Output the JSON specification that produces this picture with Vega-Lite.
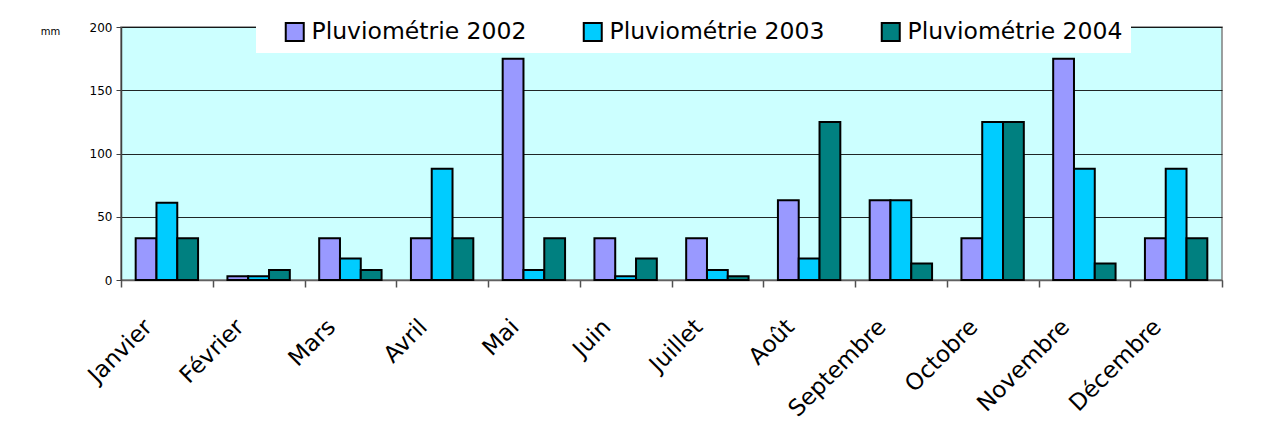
{
  "$schema": "https://vega.github.io/schema/vega-lite/v6.json",
  "autosize": {"type": "none"},
  "padding": {"left": 121, "top": 27, "right": 41, "bottom": 148},
  "width": 1101,
  "height": 253,
  "background": "white",
  "data": {
    "values": [
      {"mois": "Janvier", "serie": "Pluviométrie 2002", "mm": 33},
      {"mois": "Janvier", "serie": "Pluviométrie 2003", "mm": 61},
      {"mois": "Janvier", "serie": "Pluviométrie 2004", "mm": 33},
      {"mois": "Février", "serie": "Pluviométrie 2002", "mm": 3},
      {"mois": "Février", "serie": "Pluviométrie 2003", "mm": 3},
      {"mois": "Février", "serie": "Pluviométrie 2004", "mm": 8},
      {"mois": "Mars", "serie": "Pluviométrie 2002", "mm": 33},
      {"mois": "Mars", "serie": "Pluviométrie 2003", "mm": 17},
      {"mois": "Mars", "serie": "Pluviométrie 2004", "mm": 8},
      {"mois": "Avril", "serie": "Pluviométrie 2002", "mm": 33},
      {"mois": "Avril", "serie": "Pluviométrie 2003", "mm": 88},
      {"mois": "Avril", "serie": "Pluviométrie 2004", "mm": 33},
      {"mois": "Mai", "serie": "Pluviométrie 2002", "mm": 175},
      {"mois": "Mai", "serie": "Pluviométrie 2003", "mm": 8},
      {"mois": "Mai", "serie": "Pluviométrie 2004", "mm": 33},
      {"mois": "Juin", "serie": "Pluviométrie 2002", "mm": 33},
      {"mois": "Juin", "serie": "Pluviométrie 2003", "mm": 3},
      {"mois": "Juin", "serie": "Pluviométrie 2004", "mm": 17},
      {"mois": "Juillet", "serie": "Pluviométrie 2002", "mm": 33},
      {"mois": "Juillet", "serie": "Pluviométrie 2003", "mm": 8},
      {"mois": "Juillet", "serie": "Pluviométrie 2004", "mm": 3},
      {"mois": "Août", "serie": "Pluviométrie 2002", "mm": 63},
      {"mois": "Août", "serie": "Pluviométrie 2003", "mm": 17},
      {"mois": "Août", "serie": "Pluviométrie 2004", "mm": 125},
      {"mois": "Septembre", "serie": "Pluviométrie 2002", "mm": 63},
      {"mois": "Septembre", "serie": "Pluviométrie 2003", "mm": 63},
      {"mois": "Septembre", "serie": "Pluviométrie 2004", "mm": 13},
      {"mois": "Octobre", "serie": "Pluviométrie 2002", "mm": 33},
      {"mois": "Octobre", "serie": "Pluviométrie 2003", "mm": 125},
      {"mois": "Octobre", "serie": "Pluviométrie 2004", "mm": 125},
      {"mois": "Novembre", "serie": "Pluviométrie 2002", "mm": 175},
      {"mois": "Novembre", "serie": "Pluviométrie 2003", "mm": 88},
      {"mois": "Novembre", "serie": "Pluviométrie 2004", "mm": 13},
      {"mois": "Décembre", "serie": "Pluviométrie 2002", "mm": 33},
      {"mois": "Décembre", "serie": "Pluviométrie 2003", "mm": 88},
      {"mois": "Décembre", "serie": "Pluviométrie 2004", "mm": 33}
    ]
  },
  "mark": {"type": "bar", "stroke": "black", "strokeWidth": 2},
  "encoding": {
    "x": {
      "field": "mois",
      "type": "nominal",
      "sort": ["Janvier", "Février", "Mars", "Avril", "Mai", "Juin", "Juillet", "Août", "Septembre", "Octobre", "Novembre", "Décembre"],
      "scale": {"paddingInner": 0, "paddingOuter": 0},
      "axis": {
        "title": null,
        "labelAngle": -45,
        "labelAlign": "right",
        "labelBaseline": "middle",
        "labelFontSize": 23,
        "labelPadding": 36,
        "labelOffset": -19,
        "labelColor": "black",
        "labelOverlap": false,
        "ticks": true,
        "tickBand": "extent",
        "tickSize": 7,
        "tickWidth": 1.5,
        "tickColor": "#505050",
        "domainColor": "#606060",
        "domainWidth": 1.5
      }
    },
    "xOffset": {"field": "serie", "type": "nominal", "scale": {"paddingInner": 0, "paddingOuter": 0.706}},
    "y": {
      "field": "mm",
      "type": "quantitative",
      "scale": {"domain": [0, 200]},
      "axis": {
        "title": "mm",
        "titleAngle": 0,
        "titleX": -71,
        "titleY": 4,
        "titleAlign": "center",
        "titleBaseline": "middle",
        "titleFontSize": 10,
        "titleFontWeight": "normal",
        "titleColor": "black",
        "values": [0, 50, 100, 150, 200],
        "labelFontSize": 12,
        "labelColor": "black",
        "labelPadding": 4,
        "tickSize": 5,
        "tickColor": "#404040",
        "domainColor": "#404040",
        "domainWidth": 1.5,
        "grid": true,
        "gridColor": "black",
        "gridWidth": 1,
        "gridOpacity": 0.85
      }
    },
    "color": {
      "field": "serie",
      "type": "nominal",
      "scale": {
        "domain": ["Pluviométrie 2002", "Pluviométrie 2003", "Pluviométrie 2004"],
        "range": ["#9999FF", "#00CCFF", "#008080"]
      },
      "legend": {
        "title": null,
        "orient": "none",
        "direction": "horizontal",
        "legendX": 135,
        "legendY": -15,
        "fillColor": "white",
        "padding": 8,
        "symbolType": "square",
        "symbolSize": 324,
        "symbolOffset": 19,
        "symbolStrokeColor": "black",
        "symbolStrokeWidth": 2,
        "symbolOpacity": 1,
        "labelFontSize": 23.5,
        "labelColor": "black",
        "labelLimit": 400,
        "labelOffset": 5,
        "columnPadding": 35
      }
    }
  },
  "config": {
    "font": "Comic Sans MS, DejaVu Sans",
    "view": {"fill": "#CCFFFF", "stroke": "#808080", "strokeWidth": 1.5}
  }
}
